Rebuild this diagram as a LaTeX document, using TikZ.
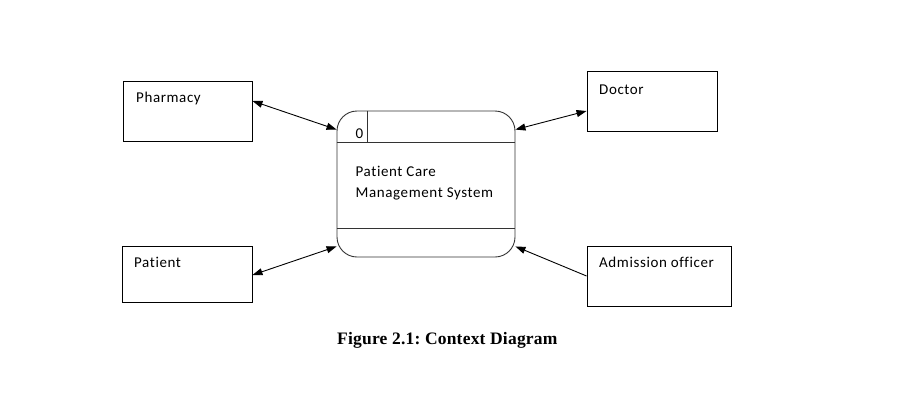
\documentclass[tikz,border=0pt]{standalone}
\usepackage{fontspec}
\setmainfont{Carlito}[LetterSpace=4,RawFeature=-liga]
\newfontfamily\capfont{Liberation Serif}[LetterSpace=1.2]
\usetikzlibrary{arrows.meta}
\begin{document}
\frenchspacing
\begin{tikzpicture}[x=1pt,y=-1pt,
  entity/.style={draw=black,line width=0.9pt,minimum width=#1,minimum height=60pt,inner sep=0pt},
  lbl/.style={anchor=base west,inner sep=0pt,font=\fontsize{15pt}{18pt}\selectfont},
  proc/.style={draw=black!80,line width=0.9pt,rounded corners=20pt,minimum width=178pt,minimum height=146pt,inner sep=0pt},
  flow/.style={line width=0.9pt,{Triangle[length=10pt,width=7pt]}-{Triangle[length=10pt,width=7pt]}},
  oneflow/.style={line width=0.9pt,-{Triangle[length=10pt,width=7pt]}}]
\path[use as bounding box,fill=white] (0,0) rectangle (897,416);
% external entities
\node[entity=129pt] (pharm) at (187.5,111) {};
\node[entity=130pt] (doc) at (652,101) {};
\node[entity=130pt,minimum height=56pt] (pat) at (187,274) {};
\node[entity=144pt] (adm) at (659,276) {};
\node[lbl] (pharmt) at (136,102.5) {Pharmacy};
\node[lbl] (doct) at (599,94.5) {Doctor};
\node[lbl] (patt) at (134,267.5) {Patient};
\node[lbl] (admt) at (599,267.5) {Admission officer};
% process
\node[proc] (P) at (426,184) {};
\draw[black!80,line width=0.9pt] ([yshift=-32pt]P.north west) coordinate (hl1) -- ([yshift=-32pt]P.north east) coordinate (hr1);
\draw[black!80,line width=0.9pt] ([yshift=29pt]P.south west) coordinate (hl2) -- ([yshift=29pt]P.south east) coordinate (hr2);
\draw[black!80,line width=0.9pt] ([xshift=31pt]P.north west) coordinate (vt) -- ([xshift=31pt]hl1) coordinate (vb);
\node[lbl] (num) at (355.5,138.5) {0};
\node[lbl] (ptxt1) at (355.5,176) {Patient Care};
\node[lbl] (ptxt2) at (355.5,197.7) {Management System};
% flows
\draw[flow] ([yshift=10pt]pharm.east) -- ([yshift=-19pt]P.north west);
\draw[flow] ([yshift=-19pt]P.north east) -- ([yshift=-10pt]doc.west);
\draw[flow] ([yshift=-1pt]pat.east) -- ([yshift=11pt]P.south west);
\draw[oneflow] (adm.west) -- ([yshift=11pt]P.south east);
% caption
\node[anchor=base west,inner sep=0pt,font=\capfont\bfseries\fontsize{17.5pt}{20pt}\selectfont] (cap) at (337,344.3) {Figure 2.1: Context Diagram};
\end{tikzpicture}
\end{document}
